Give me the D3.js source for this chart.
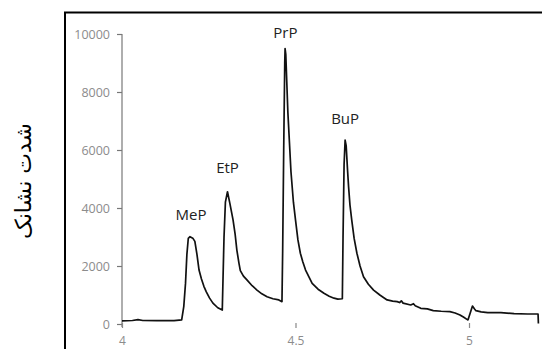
<!DOCTYPE html>
<html>
<head>
<meta charset="utf-8">
<script src="https://cdn.jsdelivr.net/npm/d3@7"></script>
<style>
  body { margin: 0; background: #fff; }
  svg { display: block; }
</style>
</head>
<body>
<svg id="chart" width="542" height="349"></svg>
<script>
// retention time (min) and signal intensity
const times = [
  4.000, 4.030, 4.046, 4.060, 4.100, 4.150, 4.172, 4.178, 4.183, 4.187,
  4.191, 4.196, 4.204, 4.210, 4.216, 4.222, 4.229, 4.236, 4.243, 4.252,
  4.262, 4.276, 4.289, 4.291, 4.294, 4.298, 4.304, 4.311, 4.320, 4.326,
  4.331, 4.337, 4.341, 4.350, 4.360, 4.375, 4.389, 4.403, 4.418, 4.435,
  4.452, 4.461, 4.463, 4.466, 4.469, 4.470, 4.472, 4.478, 4.487, 4.494,
  4.500, 4.507, 4.514, 4.521, 4.529, 4.548, 4.565, 4.582, 4.597, 4.611,
  4.622, 4.635, 4.637, 4.640, 4.643, 4.646, 4.650, 4.653, 4.657, 4.662,
  4.669, 4.677, 4.686, 4.696, 4.710, 4.725, 4.744, 4.764, 4.780, 4.793,
  4.800, 4.805, 4.810, 4.832, 4.840, 4.845, 4.861, 4.880, 4.897, 4.920,
  4.945, 4.960, 4.974, 4.985, 4.994, 4.997, 5.004, 5.010, 5.016, 5.020,
  5.035, 5.054, 5.092, 5.130, 5.169, 5.199, 5.200
];
const intensity = [
  110, 120, 150, 120, 115, 118, 140, 600, 1400, 2400,
  2950, 3010, 2960, 2850, 2400, 1860, 1550, 1300, 1110, 900,
  720, 560, 480, 1500, 3000, 4200, 4560, 4150, 3590, 3100,
  2550, 2100, 1840, 1650, 1520, 1320, 1170, 1040, 940, 870,
  830, 770, 2500, 6000, 9000, 9500, 9300, 7300, 5240, 4200,
  3590, 2900, 2440, 2150, 1860, 1400, 1200, 1060, 960, 890,
  860, 870, 3000, 5500, 6340, 6150, 5300, 4730, 4100, 3590,
  2950, 2440, 2000, 1630, 1370, 1170, 990, 830, 790, 770,
  740, 800, 720, 655, 700, 630, 540, 520, 460, 440,
  425, 380, 310, 230, 160, 140, 400, 620, 520, 460,
  420, 390, 390, 360, 345, 345, 20
];

const peakNames = ["MeP", "EtP", "PrP", "BuP"];
const peakTimes = [4.199, 4.304, 4.471, 4.643];
const peakLabelValues = [3600, 5200, 9850, 6880];

const yTicks = [0, 2000, 4000, 6000, 8000, 10000];
const xTicks = [4, 4.5, 5];
const yTitle = "شدت نشانک";

const svg = d3.select("#chart");

// outer frame (only top and left edges fall inside the picture)
svg.append("rect")
  .attr("x", 65).attr("y", 12.5)
  .attr("width", 600).attr("height", 400)
  .attr("fill", "none").attr("stroke", "#000").attr("stroke-width", 2);

const x = d3.scaleLinear().domain([4, 5.2]).range([122, 538.4]);
const y = d3.scaleLinear().domain([0, 10000]).range([324, 34]);

// y axis
const yAxis = svg.append("g")
  .attr("transform", "translate(122,0)")
  .call(d3.axisLeft(y).tickValues(yTicks).tickSize(5).tickPadding(7)
    .tickFormat(d3.format("d")));
yAxis.select(".domain").attr("stroke", "#9a9a9a").attr("stroke-width", 1.6)
  .attr("d", "M0,34V327");
yAxis.selectAll(".tick line").attr("stroke", "#777").attr("stroke-width", 1.2);
yAxis.selectAll(".tick text")
  .attr("fill", "#8c8c8c")
  .style("font-family", "'Open Sans', sans-serif")
  .style("font-size", "12.5px");

// x axis: ticks and labels only
const xAxis = svg.append("g")
  .attr("transform", "translate(0,323)")
  .call(d3.axisBottom(x).tickValues(xTicks).tickSize(5).tickPadding(8)
    .tickFormat(d3.format("")));
xAxis.select(".domain").remove();
xAxis.selectAll(".tick line").attr("stroke", "#888").attr("stroke-width", 1.2);
xAxis.selectAll(".tick text")
  .attr("fill", "#8c8c8c")
  .style("font-family", "'Open Sans', sans-serif")
  .style("font-size", "12px");

// chromatogram trace
const line = d3.line()
  .x((d, i) => x(times[i]))
  .y(d => y(d));

svg.append("path")
  .datum(intensity)
  .attr("d", line)
  .attr("fill", "none")
  .attr("stroke", "#111")
  .attr("stroke-width", 1.7)
  .attr("stroke-linejoin", "round");

// peak names
svg.selectAll("text.peak")
  .data(peakNames)
  .enter().append("text")
    .attr("class", "peak")
    .attr("x", (d, i) => x(peakTimes[i]))
    .attr("y", (d, i) => y(peakLabelValues[i]))
    .attr("text-anchor", "middle")
    .attr("fill", "#222")
    .style("font-family", "'Open Sans', sans-serif")
    .style("font-size", "15px")
    .text(d => d);

// y axis title (Persian)
svg.append("text")
  .attr("transform", "translate(31,181) rotate(-90)")
  .attr("text-anchor", "middle")
  .attr("fill", "#000")
  .style("font-family", "'DejaVu Sans', sans-serif")
  .style("font-size", "22px")
  .text(yTitle);
</script>
</body>
</html>
